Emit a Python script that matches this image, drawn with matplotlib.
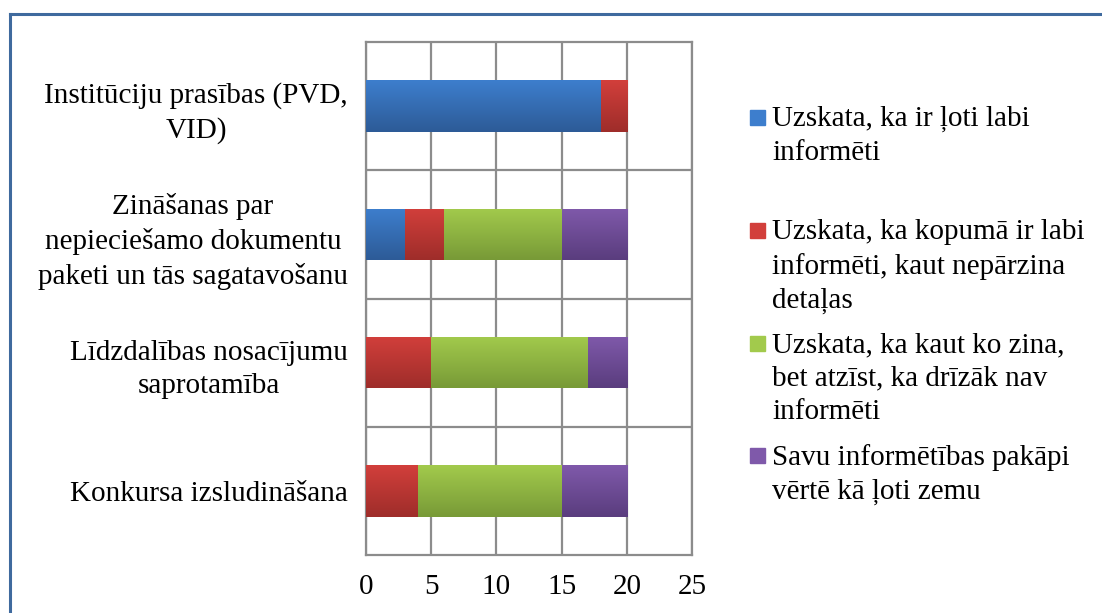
#!/usr/bin/env python3
"""Stacked horizontal bar chart: awareness level per topic (Latvian survey)."""

import matplotlib
matplotlib.use("Agg")
import matplotlib.pyplot as plt
import numpy as np
from matplotlib.colors import LinearSegmentedColormap
from matplotlib.lines import Line2D
from matplotlib.patches import Rectangle

plt.rcParams["font.family"] = ["Liberation Serif", "DejaVu Serif"]

# bottom -> top order (matplotlib draws index 0 at the bottom)
categories = [
    "Konkursa izsludināšana",
    "Līdzdalības nosacījumu\nsaprotamība",
    "Zināšanas par\nnepieciešamo dokumentu\npaketi un tās sagatavošanu",
    "Institūciju prasības (PVD,\nVID)",
]
series_names = [
    "Uzskata, ka ir ļoti labi\ninformēti",
    "Uzskata, ka kopumā ir labi\ninformēti, kaut nepārzina\ndetaļas",
    "Uzskata, ka kaut ko zina,\nbet atzīst, ka drīzāk nav\ninformēti",
    "Savu informētības pakāpi\nvērtē kā ļoti zemu",
]
very_well = [0, 0, 3, 18]
mostly_well = [4, 5, 3, 2]
somewhat = [11, 12, 9, 0]
very_low = [5, 3, 5, 0]
x_ticks = [0, 5, 10, 15, 20, 25]

# (top, bottom) gradient colours per series
COLORS = [
    ("#3d7ecd", "#2d5b97"),
    ("#d23f3b", "#9e2d2a"),
    ("#a2ca4c", "#789a37"),
    ("#7f59aa", "#5a3d7e"),
]
FS = 21
LS = 1.38
W, H = 1102, 613

fig = plt.figure(figsize=(W / 100, H / 100), dpi=100)
ax = fig.add_axes([366 / W, 1 - 555 / H, 326 / W, 513 / H])

y = np.arange(len(categories))
left = np.zeros(len(categories))
grad = np.linspace(0, 1, 64).reshape(-1, 1)
for vals, (c_top, c_bot), name in zip([very_well, mostly_well, somewhat, very_low],
                                      COLORS, series_names):
    bars = ax.barh(y, vals, left=left, height=0.4, color=c_top, linewidth=0,
                   zorder=3, label=name)
    cmap = LinearSegmentedColormap.from_list("g", [c_bot, c_top])
    for bar in bars:
        if bar.get_width() <= 0:
            continue
        x0, y0 = bar.get_x(), bar.get_y()
        im = ax.imshow(grad, cmap=cmap, aspect="auto", origin="lower",
                       extent=[x0, x0 + bar.get_width(), y0, y0 + bar.get_height()],
                       zorder=4, interpolation="bilinear")
        im.set_clip_path(bar)
    left += np.array(vals)

ax.set_xlim(0, 25)
ax.set_ylim(-0.5, len(categories) - 0.5)
ax.set_xticks(x_ticks)
ax.set_xticklabels([str(t) for t in x_ticks], fontsize=FS)
ax.set_yticks(y)
ax.set_yticklabels(categories, fontsize=FS, multialignment="center", linespacing=LS)
ax.tick_params(length=0)
ax.tick_params(axis="y", pad=13)
ax.tick_params(axis="x", pad=14)

# grid: vertical at ticks, horizontal between categories
for t in x_ticks:
    ax.axvline(t, color="#8c8c8c", lw=1.6, zorder=1)
for b in np.arange(0.5, len(categories) - 1, 1.0):
    ax.axhline(b, color="#8c8c8c", lw=1.6, zorder=1)
for s in ax.spines.values():
    s.set_color("#8c8c8c")
    s.set_linewidth(1.6)

# legend drawn by hand: each entry gets the same slot, text top-aligned
entry_tops_px = [106, 219, 332, 444]
for (c_top, c_bot), name, ty in zip(COLORS, series_names, entry_tops_px):
    fig.patches.append(Rectangle((750 / W, 1 - (ty + 19) / H), 15 / W, 15 / H,
                                 transform=fig.transFigure, color=c_top))
    fig.text(772 / W, 1 - ty / H, name, fontsize=FS, va="top", ha="left",
             linespacing=LS)

# outer frame (top and left visible in the reference)
fig.lines.append(Line2D([10 / W, 1.0], [1 - 14 / H] * 2, transform=fig.transFigure,
                        color="#3f6a9e", lw=2.2))
fig.lines.append(Line2D([10 / W] * 2, [0.0, 1 - 14 / H], transform=fig.transFigure,
                        color="#3f6a9e", lw=2.2))

fig.savefig("out.png", dpi=100, facecolor="white")
